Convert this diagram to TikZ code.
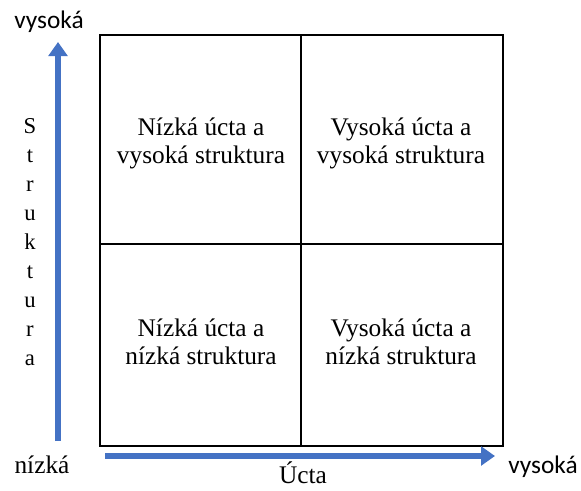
\documentclass[tikz,border=0pt]{standalone}
\usepackage{fontspec}
\setmainfont{Liberation Serif}
\newfontfamily\calib{Carlito}
\usetikzlibrary{arrows.meta}
\definecolor{axisblue}{HTML}{4472C4}
\begin{document}
\begin{tikzpicture}[x=0.75pt,y=-0.75pt,
  celltext/.style={font=\fontsize{19}{21}\selectfont, align=center, inner sep=0pt, anchor=base},
  serifl/.style={font=\fontsize{19}{21}\selectfont, inner sep=0pt, anchor=base},
  sansl/.style={font=\calib\fontsize{19}{21}\selectfont, inner sep=0pt, anchor=base},
  axis/.style={draw=axisblue, line width=3.9pt, -{Triangle[length=10.5pt,width=14pt]}},
  gridline/.style={draw=black, line width=1.5pt}]
\useasboundingbox (0,0) rectangle (581,490);
% grid
\draw[gridline] (100,35) rectangle (503,446);
\draw[gridline] (301,35) -- (301,446);
\draw[gridline] (100,244) -- (503,244);
% cell texts
\node[serifl, anchor=base] (tl1) at (201,135) {Nízká úcta a};
\node[serifl, anchor=base] (tl2) at (201,163) {vysoká struktura};
\node[serifl, anchor=base] (tr1) at (401,135) {Vysoká úcta a};
\node[serifl, anchor=base] (tr2) at (401,163) {vysoká struktura};
\node[serifl, anchor=base] (bl1) at (201,336) {Nízká úcta a};
\node[serifl, anchor=base] (bl2) at (201,364) {nízká struktura};
\node[serifl, anchor=base] (br1) at (401,336) {Vysoká úcta a};
\node[serifl, anchor=base] (br2) at (401,364) {nízká struktura};
% axes
\coordinate (vstart) at (58,441);
\coordinate (vend) at (58,42);
\coordinate (hstart) at (105,456);
\coordinate (hend) at (495,456);
\draw[axis] (vstart) -- (vend);
\draw[axis] (hstart) -- (hend);
% axis labels
\node[sansl] (vtop) at (49,28) {vysoká};
\node[sansl] (vright) at (543,473) {vysoká};
\node[serifl] (nlow) at (42,473) {nízká};
\node[serifl] (ucta) at (303,483) {Úcta};
\node[font=\fontsize{17}{21.8}\selectfont, align=center, inner sep=0pt] (strukt) at (30,242)
  {S\\t\\r\\u\\k\\t\\u\\r\\a};
\end{tikzpicture}
\end{document}
